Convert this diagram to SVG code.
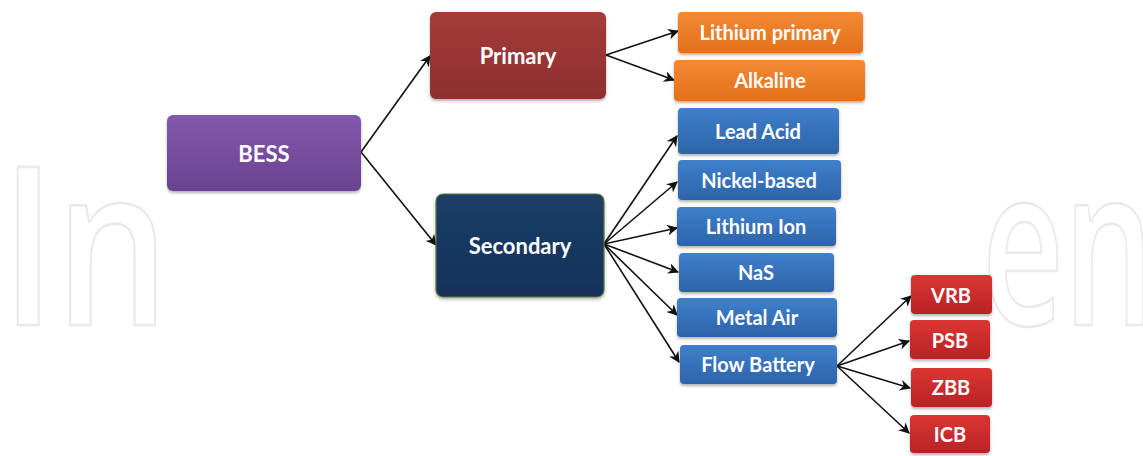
<svg xmlns="http://www.w3.org/2000/svg" width="1143" height="456" viewBox="0 0 1143 456">
<defs>
<linearGradient id="gPurple" x1="0" y1="0" x2="0" y2="1"><stop offset="0" stop-color="#8459ad"/><stop offset="1" stop-color="#6a4290"/></linearGradient>
<linearGradient id="gMaroon" x1="0" y1="0" x2="0" y2="1"><stop offset="0" stop-color="#a33c3a"/><stop offset="1" stop-color="#8e2f2e"/></linearGradient>
<linearGradient id="gNavy" x1="0" y1="0" x2="0" y2="1"><stop offset="0" stop-color="#1b3d67"/><stop offset="1" stop-color="#14325a"/></linearGradient>
<linearGradient id="gOrange" x1="0" y1="0" x2="0" y2="1"><stop offset="0" stop-color="#f28a34"/><stop offset="1" stop-color="#e46f1b"/></linearGradient>
<linearGradient id="gBlue" x1="0" y1="0" x2="0" y2="1"><stop offset="0" stop-color="#3f80cc"/><stop offset="1" stop-color="#2d63a9"/></linearGradient>
<linearGradient id="gRed" x1="0" y1="0" x2="0" y2="1"><stop offset="0" stop-color="#dc3532"/><stop offset="1" stop-color="#b82326"/></linearGradient>
<filter id="sh" x="-10%" y="-10%" width="120%" height="130%"><feDropShadow dx="0" dy="2" stdDeviation="1.5" flood-color="#000" flood-opacity="0.3"/></filter>
<marker id="ah" viewBox="0 0 10 10" refX="9" refY="5" markerWidth="11" markerHeight="11" markerUnits="userSpaceOnUse" orient="auto"><path d="M0,0 L10,5 L0,10 L3,5 z" fill="#111"/></marker>
</defs>
<style>
.wm{font-family:"Open Sans","Liberation Sans",sans-serif;font-weight:600;font-size:222px;fill:none;stroke:#e9e9e9;stroke-width:2.5}
.b{filter:url(#sh)}
.t{font-family:Lato,"Liberation Sans",sans-serif;font-weight:bold;fill:#fff;text-anchor:middle;dominant-baseline:central}
.big{font-size:22px}
.sm{font-size:20px}
.c line{stroke:#111;stroke-width:1.6;marker-end:url(#ah)}
</style>
<rect width="1143" height="456" fill="#fff"/>
<g id="watermark">
<text class="wm" x="1" y="325" textLength="168" lengthAdjust="spacingAndGlyphs">In</text>
<text class="wm" x="982" y="325" textLength="172" lengthAdjust="spacingAndGlyphs">en</text>
</g>
<g class="c" id="connectors">
<line x1="361" y1="152" x2="430" y2="56"/>
<line x1="361" y1="152" x2="436" y2="245"/>
<line x1="606" y1="55" x2="678" y2="31"/>
<line x1="606" y1="55" x2="674" y2="80"/>
<line x1="604" y1="244" x2="677" y2="136"/>
<line x1="604" y1="244" x2="677" y2="182"/>
<line x1="604" y1="244" x2="677" y2="228"/>
<line x1="604" y1="244" x2="678" y2="272"/>
<line x1="604" y1="244" x2="677" y2="315"/>
<line x1="604" y1="244" x2="679" y2="362"/>
<line x1="837" y1="366" x2="911" y2="296"/>
<line x1="837" y1="366" x2="909" y2="341"/>
<line x1="837" y1="366" x2="910" y2="388"/>
<line x1="837" y1="366" x2="909" y2="433"/>
</g>
<g id="bess"><rect class="b" x="167" y="115" width="194" height="76" rx="6" fill="url(#gPurple)"/><text class="t big" x="264" y="153">BESS</text></g>
<g id="primary"><rect class="b" x="430" y="12" width="176" height="87" rx="6" fill="url(#gMaroon)"/><text class="t big" x="518" y="55">Primary</text></g>
<g id="secondary"><rect class="b" x="436" y="194" width="168" height="103" rx="7" fill="url(#gNavy)" stroke="#5b7a3a" stroke-width="1.2"/><text class="t big" x="520" y="245">Secondary</text></g>
<g id="lithium-primary"><rect class="b" x="678" y="12" width="185" height="41" rx="4" fill="url(#gOrange)"/><text class="t sm" x="770" y="32">Lithium primary</text></g>
<g id="alkaline"><rect class="b" x="674" y="60" width="191" height="41" rx="4" fill="url(#gOrange)"/><text class="t sm" x="770" y="80">Alkaline</text></g>
<g id="lead-acid"><rect class="b" x="678" y="108" width="161" height="46" rx="4" fill="url(#gBlue)"/><text class="t sm" x="758" y="131">Lead Acid</text></g>
<g id="nickel-based"><rect class="b" x="678" y="160" width="163" height="40" rx="4" fill="url(#gBlue)"/><text class="t sm" x="759" y="180">Nickel-based</text></g>
<g id="lithium-ion"><rect class="b" x="677" y="207" width="159" height="39" rx="4" fill="url(#gBlue)"/><text class="t sm" x="756" y="226">Lithium Ion</text></g>
<g id="nas"><rect class="b" x="679" y="253" width="155" height="39" rx="4" fill="url(#gBlue)"/><text class="t sm" x="756" y="272">NaS</text></g>
<g id="metal-air"><rect class="b" x="677" y="298" width="160" height="39" rx="4" fill="url(#gBlue)"/><text class="t sm" x="757" y="317">Metal Air</text></g>
<g id="flow-battery"><rect class="b" x="680" y="345" width="157" height="39" rx="4" fill="url(#gBlue)"/><text class="t sm" x="758" y="364">Flow Battery</text></g>
<g id="vrb"><rect class="b" x="911" y="275" width="81" height="39" rx="4" fill="url(#gRed)"/><text class="t sm" x="951" y="295">VRB</text></g>
<g id="psb"><rect class="b" x="910" y="320" width="80" height="39" rx="4" fill="url(#gRed)"/><text class="t sm" x="950" y="340">PSB</text></g>
<g id="zbb"><rect class="b" x="911" y="368" width="81" height="39" rx="4" fill="url(#gRed)"/><text class="t sm" x="951" y="387">ZBB</text></g>
<g id="icb"><rect class="b" x="910" y="415" width="80" height="38" rx="4" fill="url(#gRed)"/><text class="t sm" x="950" y="434">ICB</text></g>
</svg>
